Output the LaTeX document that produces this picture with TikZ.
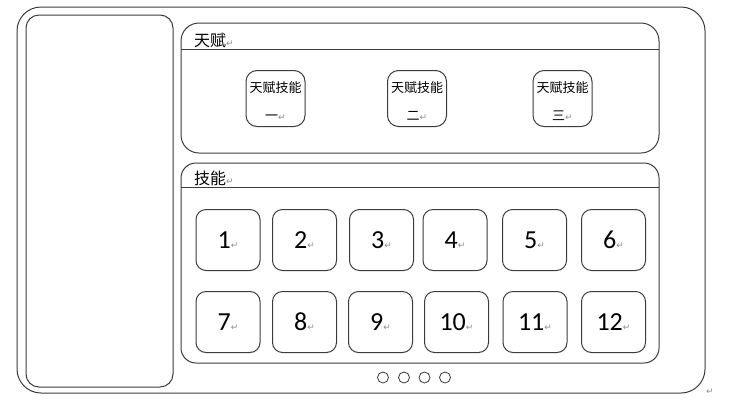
\documentclass[tikz,border=0pt]{standalone}
\usepackage{fontspec}
\newfontfamily\cjkFont{Noto Sans CJK SC}
\newfontfamily\digitFont{Carlito}
\newfontfamily\markFont{DejaVu Sans}
\usetikzlibrary{positioning}
\tikzstyle{screen} = [x = 1pt, y = -1pt]
\definecolor{lineColor}{RGB}{60,60,60}
\definecolor{markColor}{RGB}{140,140,140}
\tikzstyle{frameStyle} = [draw=lineColor, line width=1pt]
\tikzstyle{talentBoxStyle} = [frameStyle, rounded corners = 11pt, minimum width = 59pt, minimum height = 56pt, inner sep = 0pt]
\tikzstyle{talentLabel} = [inner sep = 0pt, font = \cjkFont\fontsize{13}{15}\selectfont]
\tikzstyle{skillBoxStyle} = [frameStyle, rounded corners = 10pt, minimum width = 64pt, minimum height = 61pt, inner sep = 0pt, font = \digitFont\fontsize{26}{30}\selectfont]
\tikzstyle{headerText} = [anchor = west, inner sep = 0pt, font = \cjkFont\fontsize{16}{18}\selectfont]
\tikzstyle{pageDot} = [frameStyle, circle, minimum size = 11pt, inner sep = 0pt, line width = .8pt]
\newcommand{\retMark}{{\markFont\fontsize{9}{9}\selectfont\color{markColor}↵}}
\begin{document}
\begin{tikzpicture}[screen]
  \useasboundingbox (0,0) rectangle (730,405);
  % outer frame and side panel
  \draw [frameStyle, rounded corners = 24pt] (17,7) rectangle (705,393);
  \draw [frameStyle, rounded corners = 13pt] (26,15) rectangle (173,387);
  % talent panel
  \draw [frameStyle, rounded corners = 18pt] (181,23) rectangle (659,153);
  \coordinate (talentLineL) at (181,49);
  \coordinate (talentLineR) at (659,49);
  \draw [frameStyle] (talentLineL) -- (talentLineR);
  \node [headerText] (talentTitle) at (194,40) {天赋\retMark};
  \foreach \idx/\xpos/\num in {1/275.5/一, 2/417/二, 3/562.5/三} {
    \node [talentBoxStyle] (talent\idx) at (\xpos,98.5) {};
    \node [talentLabel, below = 11pt of talent\idx.north] (talentName\idx) {天赋技能};
    \node [talentLabel, above = 6pt of talent\idx.south] (talentNum\idx) {\num\retMark};
  }
  % skill panel
  \draw [frameStyle, rounded corners = 15pt] (181,163) rectangle (659,363);
  \coordinate (skillLineL) at (181,187);
  \coordinate (skillLineR) at (659,187);
  \draw [frameStyle] (skillLineL) -- (skillLineR);
  \node [headerText] (skillTitle) at (194,178) {技能\retMark};
  \foreach \num/\xpos in {1/228, 2/304.5, 3/381.5, 4/455, 5/534.5, 6/613.5} {
    \node [skillBoxStyle] (skill\num) at (\xpos,240) {\raisebox{-2pt}{\num\retMark}};
  }
  \foreach \num/\xpos in {7/228, 8/304.5, 9/380.5, 10/456.5, 11/535, 12/613.5} {
    \node [skillBoxStyle] (skill\num) at (\xpos,322) {\raisebox{-2pt}{\num\retMark}};
  }
  % page dots
  \foreach \idx/\xpos in {1/383, 2/404, 3/424.5, 4/445} {
    \node [pageDot] (dot\idx) at (\xpos,377.5) {};
  }
  \node [inner sep = 0pt] (endMark) at (710,392) {\retMark};
\end{tikzpicture}
\end{document}
